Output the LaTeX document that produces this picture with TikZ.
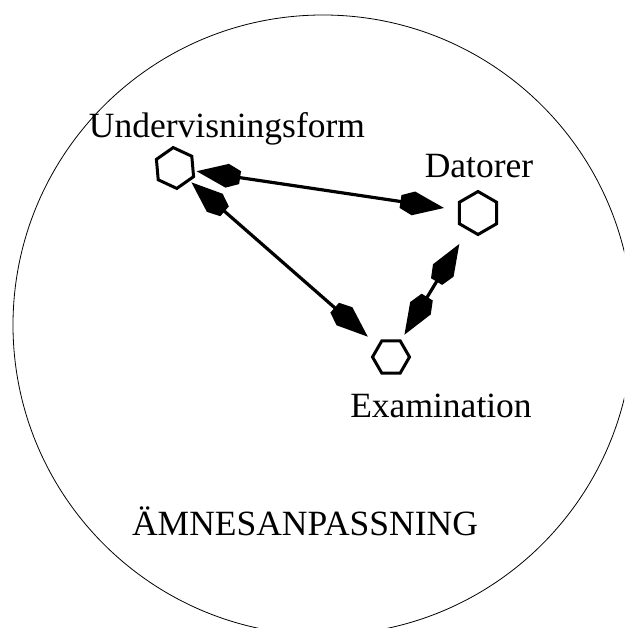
\documentclass[tikz,border=0pt]{standalone}
\usepackage{fontspec}
\setmainfont{Liberation Serif}
\usetikzlibrary{shapes.geometric,arrows.meta}

\pgfdeclarearrow{
  name = Penta,
  setup code = {
    \pgfarrowssettipend{0pt}
    \pgfarrowssetbackend{-44pt}
    \pgfarrowssetlineend{-36pt}
  },
  drawing code = {
    \pgfpathmoveto{\pgfqpoint{0pt}{0pt}}
    \pgfpathlineto{\pgfqpoint{-31pt}{12pt}}
    \pgfpathlineto{\pgfqpoint{-44pt}{6.5pt}}
    \pgfpathlineto{\pgfqpoint{-44pt}{-6.5pt}}
    \pgfpathlineto{\pgfqpoint{-31pt}{-12pt}}
    \pgfpathclose
    \pgfusepathqfill
  }
}

\begin{document}
\begin{tikzpicture}[x=1pt,y=-1pt,
  lbl/.style={font=\fontsize{35.5}{40}\selectfont, inner sep=0pt, anchor=base},
  hexa/.style={draw, regular polygon, regular polygon sides=6, inner sep=0pt, line width=3pt},
  link/.style={line width=3.2pt, Penta-Penta}]
\useasboundingbox (0,0) rectangle (624,628);
\clip (0,0) rectangle (624,628);
\node[draw, circle, minimum size=620pt, line width=0.8pt, inner sep=0pt] (amne) at (323,325) {};
\node[hexa, minimum size=41pt, rotate=-25] (u) at (175,168) {};
\node[hexa, minimum size=43pt, rotate=30] (d) at (478,213) {};
\node[hexa, minimum size=37pt] (e) at (391,357) {};
\node[lbl] (ut) at (227,138) {Undervisningsform};
\node[lbl] (dt) at (479,178) {Datorer};
\node[lbl] (et) at (441,417) {Examination};
\node[lbl] (at) at (305,535) {ÄMNESANPASSNING};
\draw[link, shorten <=2pt, shorten >=14pt] (u) -- (d);
\draw[link, shorten <=2pt, shorten >=13pt] (u) -- (e);
\draw[link, shorten <=16pt, shorten >=6pt] (d) -- (e);
\end{tikzpicture}
\end{document}
